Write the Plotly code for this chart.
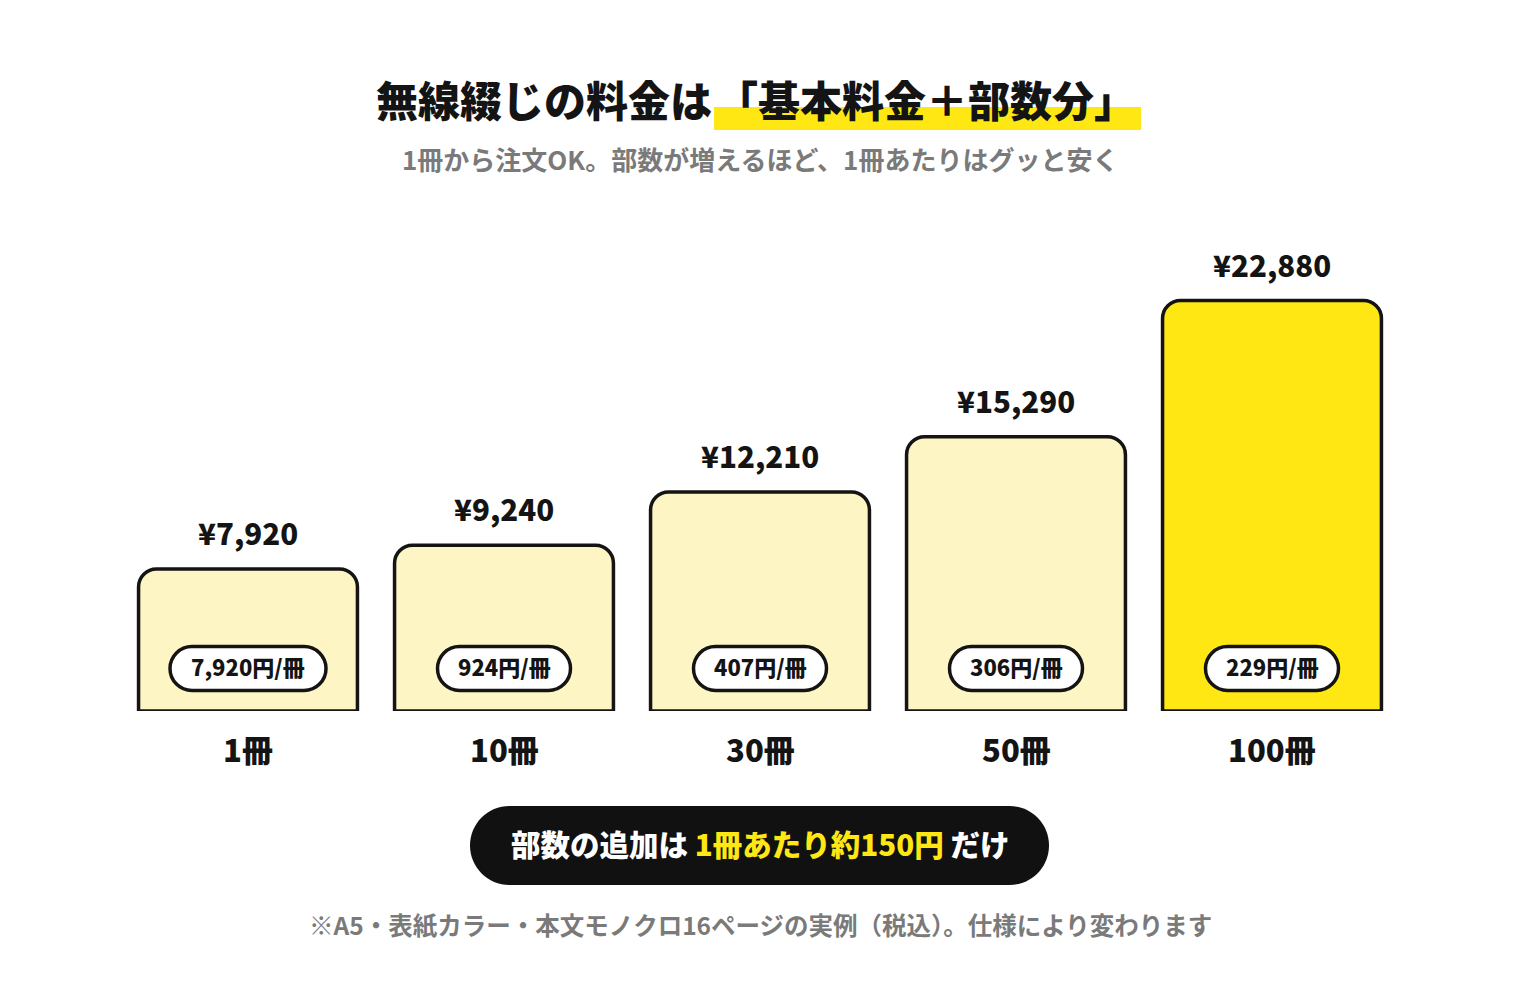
import plotly.graph_objects as go

# ---- data ----
categories = ["1冊", "10冊", "30冊", "50冊", "100冊"]
totals = [7920, 9240, 12210, 15290, 22880]
value_labels = ["¥7,920", "¥9,240", "¥12,210", "¥15,290", "¥22,880"]
unit_labels = ["7,920円/冊", "924円/冊", "407円/冊", "306円/冊", "229円/冊"]

title_left = "無線綴じの料金は"
title_right = "「基本料金＋部数分」"
subtitle = "1冊から注文OK。部数が増えるほど、1冊あたりはグッと安く"
callout_parts = ["部数の追加は ", "1冊あたり約150円", " だけ"]
footnote = "※A5・表紙カラー・本文モノクロ16ページの実例（税込）。仕様により変わります"

# ---- style ----
FONT = "Noto Sans CJK JP"
INK = "#141414"
GRAY = "#7a7a7a"
PALE = "#FDF5C3"
YELLOW = "#FFE714"
bar_colors = [PALE, PALE, PALE, PALE, YELLOW]

W, H = 1520, 1002
L, R, T, B = 120, 120, 230, 291
PW = W - L - R
PH = H - T - B
BASE = H - B  # pixel y of baseline
YMAX = 26810
LIFT = 3  # visual correction for text box centring


def fx(px):
    return (px - L) / PW


def fy(py):
    return (BASE - py + LIFT) / PH


def rrect(x0, y0, x1, y1, r):
    k = 0.5523 * r
    p = [
        f"M {x0 + r},{y0}", f"L {x1 - r},{y0}",
        f"C {x1 - r + k},{y0} {x1},{y0 + r - k} {x1},{y0 + r}",
        f"L {x1},{y1 - r}",
        f"C {x1},{y1 - r + k} {x1 - r + k},{y1} {x1 - r},{y1}",
        f"L {x0 + r},{y1}",
        f"C {x0 + r - k},{y1} {x0},{y1 - r + k} {x0},{y1 - r}",
        f"L {x0},{y0 + r}",
        f"C {x0},{y0 + r - k} {x0 + r - k},{y0} {x0 + r},{y0}",
        "Z",
    ]
    return " ".join(p)


def page_rrect(px0, py0, px1, py1, r):
    # page pixels -> pixels relative to paper (0,0), y up
    return rrect(px0 - L, BASE - py1, px1 - L, BASE - py0, r)


x = list(range(len(categories)))

fig = go.Figure()
fig.add_trace(go.Bar(
    x=x, y=totals, width=0.855,
    marker=dict(color=bar_colors, line=dict(color=INK, width=3.5), cornerradius=18),
    cliponaxis=False, hoverinfo="skip",
))

shapes = []
annotations = []

# title highlight
shapes.append(dict(type="rect", xref="paper", yref="paper",
                   xsizemode="pixel", ysizemode="pixel", xanchor=0, yanchor=0,
                   x0=714 - L, x1=1141 - L, y0=BASE - 130, y1=BASE - 107,
                   fillcolor=YELLOW, line=dict(width=0), layer="below"))

# callout pill
shapes.append(dict(type="path", xref="paper", yref="paper",
                   xsizemode="pixel", ysizemode="pixel", xanchor=0, yanchor=0,
                   path=page_rrect(470, 806, 1049, 885, 39.5),
                   fillcolor="#111111", line=dict(width=0)))

tfont = dict(family=FONT, color=INK, weight=900)

for i, (v, vl, ul, cat) in enumerate(zip(totals, value_labels, unit_labels, categories)):
    # per-unit pill inside bar
    w = 133 + 11.5 * (len(ul) - 6)
    h = 44
    cy = 42.5
    shapes.append(dict(type="path", xref="x", yref="y",
                       xsizemode="pixel", ysizemode="pixel", xanchor=i, yanchor=0,
                       path=rrect(-w / 2, cy - h / 2, w / 2, cy + h / 2, h / 2),
                       fillcolor="white", line=dict(color=INK, width=3.5)))
    annotations.append(dict(x=i, y=0, xref="x", yref="y", yshift=cy + LIFT, text=ul,
                            showarrow=False, xanchor="center", yanchor="middle",
                            font=dict(tfont, size=22)))
    # value label above bar
    annotations.append(dict(x=i, y=v, xref="x", yref="y", yshift=34 + LIFT, text=vl,
                            showarrow=False, xanchor="center", yanchor="middle",
                            font=dict(tfont, size=29.5)))
    # category label
    annotations.append(dict(x=i, y=fy(751), xref="x", yref="paper", text=cat,
                            showarrow=False, xanchor="center", yanchor="middle",
                            font=dict(tfont, size=31)))

# title
annotations.append(dict(x=fx(714), y=fy(101), xref="paper", yref="paper", text=title_left,
                        showarrow=False, xanchor="right", yanchor="middle",
                        font=dict(tfont, size=42)))
annotations.append(dict(x=fx(714), y=fy(101), xref="paper", yref="paper", text=title_right,
                        showarrow=False, xanchor="left", yanchor="middle",
                        font=dict(tfont, size=42)))
# subtitle
annotations.append(dict(x=fx(760), y=fy(162), xref="paper", yref="paper", text=subtitle,
                        showarrow=False, xanchor="center", yanchor="middle",
                        font=dict(family=FONT, color=GRAY, size=26, weight=700)))
# callout text
callout = (f"<span style='color:white'>{callout_parts[0]}</span>"
           f"<span style='color:{YELLOW}'>{callout_parts[1]}</span>"
           f"<span style='color:white'>{callout_parts[2]}</span>")
annotations.append(dict(x=fx(760), y=fy(846), xref="paper", yref="paper", text=callout,
                        showarrow=False, xanchor="center", yanchor="middle",
                        font=dict(family=FONT, color="white", size=29.5, weight=900)))
# footnote
annotations.append(dict(x=fx(760), y=fy(927), xref="paper", yref="paper", text=footnote,
                        showarrow=False, xanchor="center", yanchor="middle",
                        font=dict(family=FONT, color=GRAY, size=24.5, weight=700)))

fig.update_layout(
    width=W, height=H, autosize=False,
    margin=dict(l=L, r=R, t=T, b=B, pad=0),
    paper_bgcolor="white", plot_bgcolor="white",
    showlegend=False,
    xaxis=dict(range=[-0.5, 4.5], visible=False, fixedrange=True),
    yaxis=dict(range=[0, YMAX], visible=False, fixedrange=True),
    shapes=shapes, annotations=annotations,
)

fig.write_html("out.html", config={"displayModeBar": False})
